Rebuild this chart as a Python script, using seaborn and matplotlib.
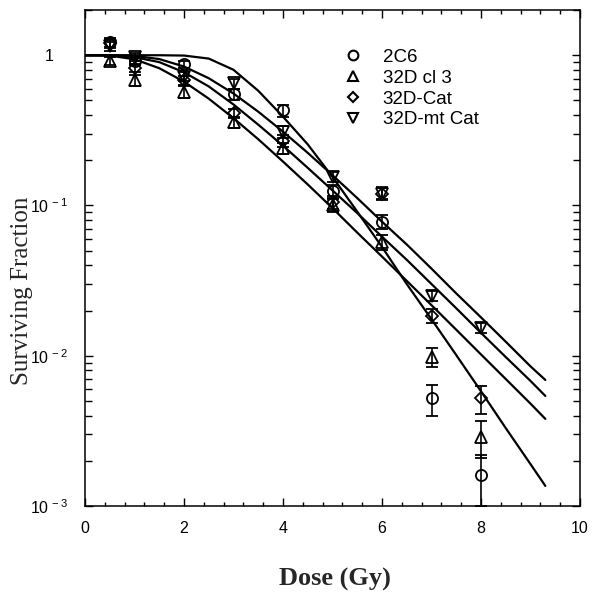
import matplotlib
matplotlib.use('Agg')
import matplotlib.pyplot as plt
from matplotlib.lines import Line2D
from matplotlib.ticker import MultipleLocator, LogLocator, NullFormatter
import seaborn as sns
import numpy as np
import pandas as pd

sns.set_style('ticks', {'axes.edgecolor': 'black', 'xtick.color': 'black',
                        'ytick.color': 'black', 'text.color': 'black'})
plt.rcParams['font.family'] = ['Liberation Sans', 'DejaVu Sans']
plt.rcParams['mathtext.fontset'] = 'custom'
plt.rcParams['mathtext.rm'] = 'Liberation Sans'

# measured points
dose_pts = [0.5, 1, 2, 3, 4, 5, 6, 7, 8]

sf_2c6 = [1.22, 0.92, 0.87, 0.55, 0.43, 0.125, 0.078, 0.0052, 0.0016]
err_2c6 = [0.08, 0.06, 0.05, 0.05, 0.04, 0.012, 0.008, 0.0012, 0.0006]

sf_cl3 = [0.92, 0.68, 0.57, 0.36, 0.24, 0.10, 0.057, 0.0098, 0.0029]
err_cl3 = [0.06, 0.06, 0.05, 0.03, 0.02, 0.01, 0.0065, 0.0014, 0.0008]

sf_cat = [1.20, 0.82, 0.68, 0.41, 0.27, 0.105, 0.12, 0.0185, 0.0052]
err_cat = [0.08, 0.05, 0.05, 0.03, 0.025, 0.01, 0.012, 0.002, 0.0011]

sf_mt = [1.15, 0.98, 0.72, 0.65, 0.31, 0.155, 0.12, 0.025, 0.0154]
err_mt = [0.08, 0.06, 0.05, 0.05, 0.03, 0.012, 0.01, 0.002, 0.0012]

# fitted curves
fit_dose = [0, 0.5, 1, 1.5, 2, 2.5, 3, 3.5, 4, 4.5, 5, 5.5, 6, 6.5, 7, 7.5, 8, 8.5, 9, 9.3]
fit_1 = [1, 1, 1, 1, 0.995, 0.95, 0.80, 0.58, 0.39, 0.255, 0.155, 0.091, 0.053, 0.030,
         0.0175, 0.0101, 0.0058, 0.0033, 0.0019, 0.00136]
fit_2 = [1, 1, 0.99, 0.943, 0.841, 0.703, 0.556, 0.421, 0.310, 0.224, 0.159, 0.112, 0.078,
         0.055, 0.038, 0.026, 0.018, 0.0124, 0.0085, 0.0069]
fit_3 = [1, 1, 0.97, 0.90, 0.77, 0.62, 0.47, 0.345, 0.25, 0.178, 0.126, 0.089, 0.062,
         0.0435, 0.030, 0.0207, 0.0142, 0.0098, 0.0068, 0.0054]
fit_4 = [1, 0.994, 0.94, 0.82, 0.667, 0.514, 0.381, 0.276, 0.196, 0.138, 0.096, 0.066, 0.0457,
         0.0315, 0.0217, 0.0149, 0.0102, 0.0070, 0.0048, 0.0038]

labels = ['2C6', '32D cl 3', '32D-Cat', '32D-mt Cat']
markers = ['o', '^', 'D', 'v']

xtick_vals = [0, 2, 4, 6, 8, 10]
xtick_labels = ['0', '2', '4', '6', '8', '10']
ytick_vals = [1e-3, 1e-2, 1e-1, 1]
ytick_labels = [r'$\mathregular{10^{\,-3}}$', r'$\mathregular{10^{\,-2}}$',
                r'$\mathregular{10^{\,-1}}$', '1']

fits = pd.DataFrame({
    'dose': fit_dose * 4,
    'sf': fit_1 + fit_2 + fit_3 + fit_4,
    'fit': np.repeat(['a', 'b', 'c', 'd'], len(fit_dose)),
})

fig = plt.figure(figsize=(6.02, 6.03), dpi=100)
ax = fig.add_axes([85 / 602, 97 / 603, 495 / 602, 496 / 603])

sns.lineplot(data=fits, x='dose', y='sf', units='fit', estimator=None, sort=False,
             color='black', lw=1.6, ax=ax, legend=False)

series = [sf_2c6, sf_cl3, sf_cat, sf_mt]
errs = [err_2c6, err_cl3, err_cat, err_mt]
sizes = [8, 8, 6.5, 8]
for sf, er, m, s in zip(series, errs, markers, sizes):
    ax.errorbar(dose_pts, sf, yerr=er, fmt=m, ms=s, mfc='none', mec='black', mew=1.3,
                ecolor='black', elinewidth=1.2, capsize=4.2, capthick=1.2, zorder=3)

ax.set_yscale('log')
ax.set_xlim(0, 10)
ax.set_ylim(1e-3, 2)
ax.set_xticks(xtick_vals)
ax.set_xticklabels(xtick_labels)
ax.xaxis.set_minor_locator(MultipleLocator(0.4))
ax.set_yticks(ytick_vals)
ax.set_yticklabels(ytick_labels)
ax.yaxis.set_minor_locator(LogLocator(base=10, subs=np.arange(2, 10) * 1.0, numticks=20))
ax.yaxis.set_minor_formatter(NullFormatter())

ax.tick_params(which='both', direction='in', top=True, right=True, width=1.0)
ax.tick_params(axis='y', which='major', length=6, pad=26, labelsize=11.5)
ax.tick_params(axis='y', which='minor', length=5)
ax.tick_params(axis='x', which='major', length=6, pad=11, labelsize=11.5)
ax.tick_params(axis='x', which='minor', length=3)
for t in ax.get_yticklabels():
    t.set_ha('center')
for sp in ax.spines.values():
    sp.set_linewidth(1.1)

ax.set_xlabel('Dose (Gy)', family='Liberation Serif', weight='bold', size=19)
ax.set_ylabel('Surviving Fraction', family='Liberation Serif', size=18)
ax.xaxis.set_label_coords(0.505, -0.149)
ax.xaxis.label.set_va('center')
ax.yaxis.set_label_coords(-0.127, 0.433)
ax.yaxis.label.set_va('center')

handles = [Line2D([], [], ls='none', marker=m, ms=s - 1, mfc='none', mec='black', mew=1.5)
           for m, s in zip(markers, sizes)]
ax.legend(handles, labels, loc='upper left', bbox_to_anchor=(0.522, 0.922),
          frameon=False, fontsize=13.5, handlelength=1.0, handletextpad=1.1,
          labelspacing=0.2, borderpad=0, borderaxespad=0)

fig.savefig('out.png', dpi=100)
